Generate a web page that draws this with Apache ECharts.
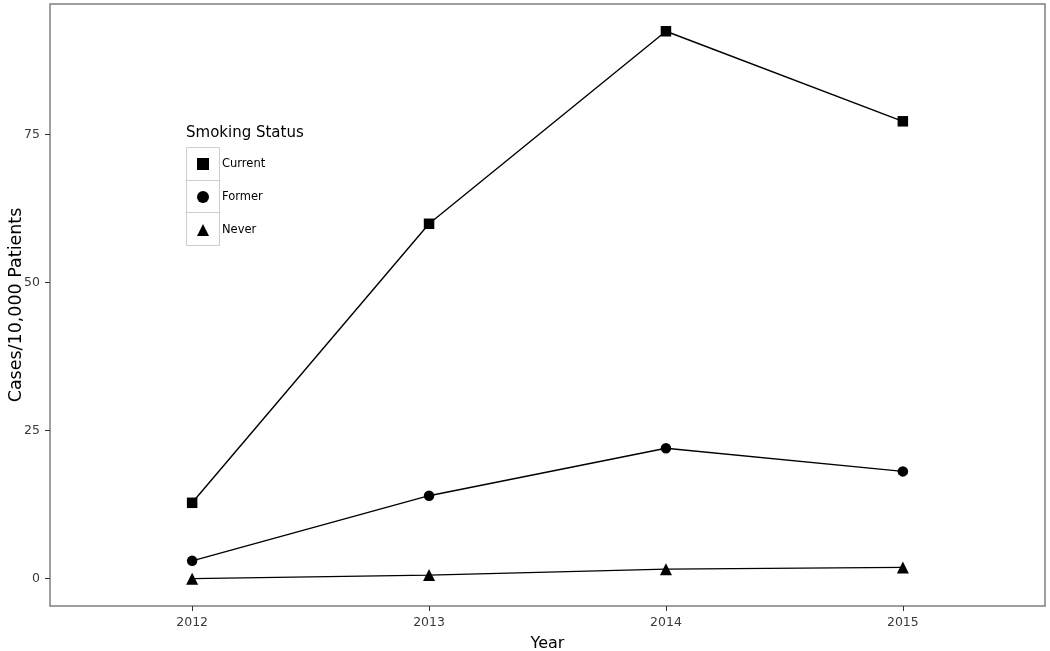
<!DOCTYPE html>
<html>
<head>
<meta charset="utf-8">
<script src="https://cdn.jsdelivr.net/npm/echarts@6/dist/echarts.min.js"></script>
<style>html,body{margin:0;padding:0;background:#fff}#c{width:1050px;height:651px}</style>
</head>
<body>
<div id="c"></div>
<script>
const years = [2012, 2013, 2014, 2015];
const yTicks = [0, 25, 50, 75];
const current = [12.8, 59.9, 92.4, 77.2];
const former = [3.0, 14.0, 22.0, 18.1];
const never = [0.0, 0.6, 1.6, 1.9];
const seriesNames = ['Current', 'Former', 'Never'];

const chart = echarts.init(document.getElementById('c'), null, {renderer: 'canvas'});
const pair = arr => years.map((y, i) => [y, arr[i]]);
const font = 'DejaVu Sans, sans-serif';

function mk(name, data, symbol, size) {
  return {
    name, type: 'line', data: pair(data), symbol, symbolSize: size,
    lineStyle: {color: '#000', width: 1.4},
    itemStyle: {color: '#000'},
    emphasis: {disabled: true},
    animation: false
  };
}

chart.setOption({
  animation: false,
  grid: {left: 50, right: 5, top: 4, bottom: 45, show: true, borderColor: '#7f7f7f', borderWidth: 1.5, backgroundColor: '#fff', containLabel: false, outerBoundsMode: 'none'},
  xAxis: {
    type: 'value', min: 2011.4, max: 2015.6,
    name: 'Year', nameLocation: 'middle', nameGap: 30,
    nameTextStyle: {fontFamily: font, fontSize: 16, color: '#000'},
    axisLine: {show: false, onZero: false},
    splitLine: {show: false},
    axisTick: {show: true, customValues: years, length: 5, lineStyle: {color: '#333'}},
    axisLabel: {customValues: years, formatter: v => String(v), fontFamily: font, fontSize: 12.5, color: '#3a3a3a', margin: 10}
  },
  yAxis: {
    type: 'value', min: -4.62, max: 97.0,
    name: 'Cases/10,000 Patients', nameLocation: 'middle', nameGap: 25, nameRotate: 90,
    nameMoveOverlap: false,
    nameTextStyle: {fontFamily: font, fontSize: 17.5, color: '#000'},
    axisLine: {show: false, onZero: false},
    splitLine: {show: false},
    axisTick: {show: true, customValues: yTicks, length: 5, lineStyle: {color: '#333'}},
    axisLabel: {customValues: yTicks, formatter: v => String(v), fontFamily: font, fontSize: 12.5, color: '#3a3a3a', margin: 10}
  },
  legend: {
    orient: 'vertical', left: 192, top: 153,
    itemWidth: 12, itemHeight: 12, itemGap: 21,
    data: [
      {name: 'Current', icon: 'rect'},
      {name: 'Former', icon: 'circle'},
      {name: 'Never', icon: 'triangle'}
    ],
    textStyle: {fontFamily: font, fontSize: 11.5, color: '#000', padding: [0, 0, 0, 8]},
    selectedMode: false
  },
  graphic: [
    {type: 'text', left: 186, top: 126, style: {text: 'Smoking Status', font: '15px ' + font, fill: '#000'}},
    {type: 'rect', shape: {x: 186.5, y: 147.5, width: 33, height: 33}, style: {fill: 'none', stroke: '#cccccc', lineWidth: 1}, z: 10},
    {type: 'rect', shape: {x: 186.5, y: 180.5, width: 33, height: 32}, style: {fill: 'none', stroke: '#cccccc', lineWidth: 1}, z: 10},
    {type: 'rect', shape: {x: 186.5, y: 212.5, width: 33, height: 33}, style: {fill: 'none', stroke: '#cccccc', lineWidth: 1}, z: 10}
  ],
  series: [
    mk(seriesNames[0], current, 'rect', 10.5),
    mk(seriesNames[1], former, 'circle', 10.5),
    mk(seriesNames[2], never, 'triangle', 12)
  ]
});
</script>
</body>
</html>
